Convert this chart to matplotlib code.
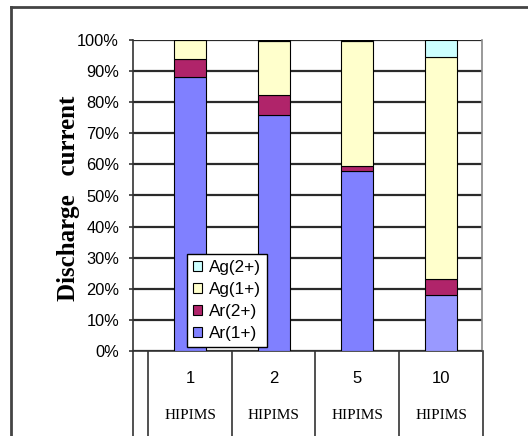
import matplotlib
matplotlib.use("Agg")
import matplotlib.pyplot as plt
from matplotlib.lines import Line2D
from matplotlib.ticker import FuncFormatter
import numpy as np

categories = ["1", "2", "5", "10"]
sublabel = "HIPIMS"
series_names = ["Ar(1+)", "Ar(2+)", "Ag(1+)", "Ag(2+)"]
ar1 = [88.0, 76.0, 58.0, 18.0]
ar2 = [6.0, 6.3, 1.5, 5.0]
ag1 = [6.0, 17.5, 40.2, 71.5]
ag2 = [0.0, 0.2, 0.3, 5.5]
values = [ar1, ar2, ag1, ag2]
series_colors = ["#8080FF", "#B0246A", "#FFFFCC", "#CCFFFF"]
ar1_bar_colors = ["#8080FF", "#8080FF", "#8080FF", "#9999FF"]
yticks = list(range(0, 101, 10))

fig = plt.figure(figsize=(5.28, 4.36), dpi=100)
W, H = 528, 436
ax = fig.add_axes([133 / W, (H - 351) / H, 349 / W, 311 / H])

x = np.arange(len(categories))
bottom = np.zeros(len(categories))
handles = []
for i, (name, vals, col) in enumerate(zip(series_names, values, series_colors)):
    colors = ar1_bar_colors if i == 0 else col
    bc = ax.bar(x, vals, width=0.38, bottom=bottom, color=colors,
                edgecolor="black", linewidth=0.8, label=name, zorder=3)
    bottom += np.array(vals)
    handles.append(bc)

ax.set_xlim(-0.681, 3.49)
ax.set_ylim(0, 100)
ax.set_yticks(yticks)
ax.yaxis.set_major_formatter(FuncFormatter(lambda v, p: f"{int(v)}%"))
ax.tick_params(axis="y", length=3, width=1.2, pad=7, labelsize=11.8,
               color="#333333")
for lab in ax.get_yticklabels():
    lab.set_fontfamily("Liberation Sans")
ax.set_xticks([])
ax.yaxis.grid(True, color="#2a2a2a", linewidth=1.6, zorder=0)
ax.set_axisbelow(True)
ax.spines["top"].set_visible(False)
ax.spines["right"].set_color("#888888")
ax.spines["right"].set_linewidth(1.2)
ax.spines["left"].set_color("#333333")
ax.spines["left"].set_linewidth(1.2)
ax.spines["bottom"].set_color("#333333")
ax.spines["bottom"].set_linewidth(1.2)

# table below axis
tb = ax.get_xaxis_transform()
ybot = -0.3
ax.add_line(Line2D([-0.681, -0.681], [0, ybot], transform=tb, color="#333333",
                   lw=1.2, clip_on=False))
for b in np.arange(len(categories) + 1) - 0.5:
    ax.add_line(Line2D([b, b], [0, ybot], transform=tb, color="#333333", lw=1.2,
                       clip_on=False))
for xi, c in zip(x, categories):
    ax.text(xi, -0.087, c, transform=tb, ha="center", va="center",
            fontsize=12, family="Liberation Sans")
    ax.text(xi, -0.206, sublabel, transform=tb, ha="center", va="center",
            fontsize=11, family="Liberation Serif")

leg = ax.legend(handles=handles[::-1], labels=series_names[::-1],
                loc="lower left", bbox_to_anchor=(0.155, 0.012),
                prop={"family": "Liberation Sans", "size": 12.3},
                handlelength=0.55, handleheight=0.55, handletextpad=0.4,
                labelspacing=0.42, borderpad=0.35, borderaxespad=0,
                fancybox=False, framealpha=1, edgecolor="black")
leg.get_frame().set_linewidth(1.0)
leg.set_zorder(5)

fig.text(68 / W, 1 - 198 / H, "Discharge   current", rotation=90,
         ha="center", va="center", fontsize=18, fontweight="bold",
         family="Liberation Serif")

# outer frame
fig.add_artist(Line2D([11 / W, 11 / W], [0, 1 - 7 / H], transform=fig.transFigure,
                      color="#444444", lw=2))
fig.add_artist(Line2D([11 / W, 1], [1 - 7 / H, 1 - 7 / H], transform=fig.transFigure,
                      color="#444444", lw=2))

fig.savefig("out.png", dpi=100)
